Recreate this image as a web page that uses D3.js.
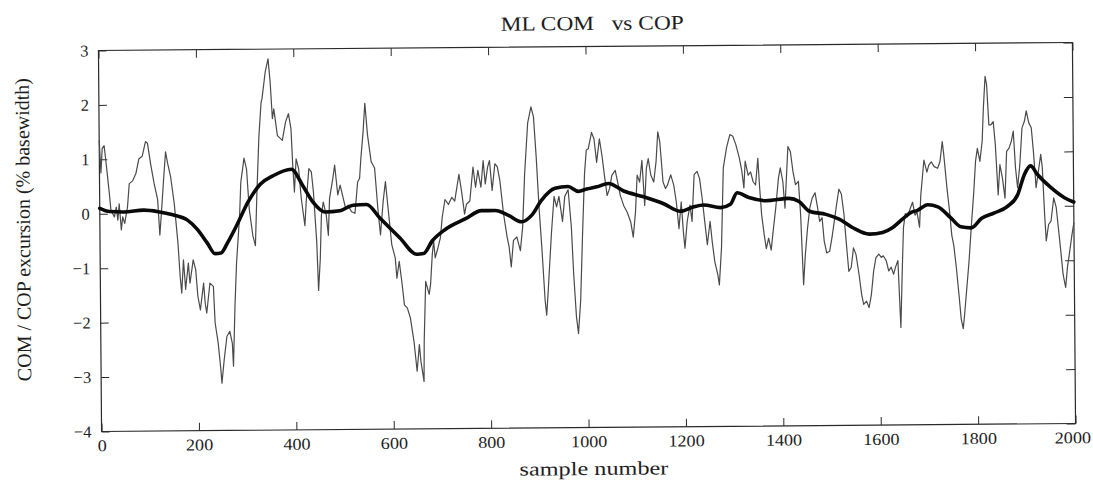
<!DOCTYPE html>
<html>
<head>
<meta charset="utf-8">
<script src="https://cdn.jsdelivr.net/npm/d3@7"></script>
<style>
  body { margin: 0; background: #fff; }
  svg text { font-family: "Liberation Serif", "Times New Roman", serif; fill: #1e1e1e; }
</style>
</head>
<body>
<svg id="chart" width="1093" height="481"></svg>
<script>
'use strict';

// axis ticks
var xTicks = [0, 200, 400, 600, 800, 1000, 1200, 1400, 1600, 1800, 2000];
var yTicks = [-4, -3, -2, -1, 0, 1, 2, 3];

// thin trace: COP [sample, % basewidth]
var copData = [
  [0,1.35],[3,0.75],[6,1.2],[10,1.25],[13,1.0],[20,0.37],[23,0.06],[30,-0.06],[34,0.12],[37,-0.12],
  [40,0.18],[44,-0.3],[47,-0.06],[51,-0.18],[57,0.12],[61,0.55],[68,0.6],[75,0.74],[81,1.0],[88,1.05],
  [95,1.32],[99,1.29],[105,0.92],[112,0.55],[119,0.25],[123,-0.4],[126,-0.06],[131,0.55],[136,1.13],[140,0.92],
  [146,0.67],[153,0.18],[160,-0.55],[164,-1.17],[167,-1.47],[171,-0.86],[175,-1.4],[181,-0.92],[184,-1.29],[191,-0.86],
  [196,-1.04],[200,-1.53],[205,-1.78],[212,-1.29],[215,-1.66],[218,-1.84],[225,-1.29],[232,-1.35],[235,-2.02],[241,-2.4],
  [246,-2.88],[248,-3.13],[253,-2.7],[259,-2.27],[265,-2.18],[270,-2.4],[272,-2.82],[276,-1.72],[280,-0.92],[287,-0.06],
  [290,0.55],[297,1.0],[302,0.8],[307,0.06],[314,-0.43],[319,-0.61],[323,0.37],[328,1.4],[333,2.02],[335,2.09],
  [342,2.58],[348,2.82],[352,2.39],[356,1.72],[359,1.9],[366,1.41],[376,1.32],[383,1.66],[389,1.81],[394,1.53],
  [397,0.86],[400,0.37],[404,0.98],[409,0.8],[414,0.25],[421,-0.25],[424,0.18],[430,0.8],[435,0.74],[439,0.37],
  [445,-0.55],[448,-1.44],[452,-0.86],[455,-0.06],[459,0.18],[465,-0.06],[469,-0.43],[472,0.25],[479,0.61],[483,0.86],
  [489,0.31],[494,0.49],[500,0.25],[505,0.06],[510,0.12],[517,0],[524,-0.03],[530,0.55],[534,0.61],[537,0.98],
  [542,1.47],[546,1.99],[551,1.41],[558,0.92],[565,0.8],[571,0.06],[576,-0.43],[582,0.18],[587,0.55],[592,0.06],
  [599,-0.61],[606,-0.86],[609,-1.23],[614,-0.92],[619,-1.29],[624,-1.72],[630,-1.78],[636,-1.96],[643,-2.39],[649,-2.94],
  [654,-2.45],[657,-2.76],[663,-3.13],[664,-2.39],[668,-1.29],[675,-1.53],[678,-1.35],[682,-0.8],[685,-0.55],[688,-0.86],
  [694,-0.67],[699,-0.49],[703,-0.12],[709,0.21],[716,0.12],[723,0.25],[729,0.18],[738,0.67],[743,0.37],[749,-0.06],
  [753,0.12],[760,0.18],[767,0.8],[772,0.43],[777,0.74],[783,0.43],[788,0.92],[792,0.49],[797,0.8],[801,0.92],
  [806,0.37],[812,0.86],[817,0.8],[822,0.55],[829,-0.06],[836,-0.49],[840,-0.67],[844,-1.04],[849,-0.55],[856,-0.49],
  [863,-0.74],[868,-0.31],[873,0.67],[880,1.6],[887,1.9],[892,1.72],[897,0.98],[902,0.06],[907,-0.67],[913,-1.66],
  [916,-1.93],[920,-1.41],[927,-0.43],[933,0.25],[938,0.06],[943,0.25],[950,-0.21],[955,0.25],[962,0.37],[968,-0.31],
  [972,-1.17],[977,-1.96],[981,-2.27],[986,-1.66],[991,-0.43],[996,0.67],[1000,1.1],[1004,1.12],[1011,1.42],[1016,1.3],
  [1021,0.87],[1027,1.3],[1032,1.0],[1036,0.69],[1042,0.26],[1047,0.38],[1052,0.63],[1059,0.72],[1064,0.5],[1069,0.26],
  [1076,0.07],[1083,-0.05],[1090,-0.23],[1095,-0.51],[1100,-0.05],[1104,0.63],[1109,0.5],[1114,0.9],[1119,0.07],[1123,0.75],
  [1127,0.93],[1132,0.63],[1138,0.5],[1143,0.87],[1147,1.42],[1151,1.24],[1157,0.5],[1162,0.38],[1166,0.44],[1173,0.63],
  [1179,0.44],[1184,0.13],[1189,-0.36],[1194,0.13],[1198,-0.42],[1201,-0.72],[1206,-0.23],[1212,0.07],[1216,-0.23],[1221,0.63],
  [1227,0.69],[1232,0.56],[1237,0.2],[1242,-0.23],[1247,-0.66],[1253,-0.23],[1257,-0.6],[1262,-0.97],[1268,-1.21],[1271,-1.4],
  [1276,-0.72],[1281,0.75],[1288,1.12],[1295,1.36],[1301,1.33],[1307,1.18],[1314,0.93],[1319,0.69],[1323,0.38],[1326,0.87],
  [1332,0.61],[1337,0.67],[1342,0.49],[1347,0.43],[1352,0.92],[1355,0.43],[1359,-0.12],[1364,-0.49],[1368,-0.74],[1373,-0.55],
  [1378,-0.77],[1383,-0.37],[1388,0],[1394,0.55],[1398,0.74],[1403,0.49],[1407,0],[1410,0.49],[1414,1.13],[1419,1.04],
  [1424,0.67],[1429,0.43],[1435,0.49],[1439,-0.12],[1444,-1.41],[1448,-0.86],[1453,-0.37],[1458,0],[1463,0.18],[1469,0.28],
  [1474,0],[1478,-0.25],[1483,-0.18],[1487,-0.61],[1492,-0.83],[1498,-0.8],[1503,-0.55],[1508,-0.25],[1513,0.06],[1518,0.34],
  [1523,0.25],[1528,-0.12],[1532,-0.61],[1537,-1.17],[1542,-1.1],[1547,-0.74],[1552,-0.86],[1558,-1.23],[1563,-1.6],[1567,-1.78],
  [1573,-1.72],[1578,-1.84],[1583,-1.6],[1588,-1.17],[1593,-0.92],[1599,-0.86],[1604,-0.92],[1608,-0.89],[1614,-0.98],[1619,-1.17],
  [1624,-1.1],[1629,-1.23],[1633,-1.1],[1638,-0.98],[1641,-1.72],[1643,-2.21],[1647,-1.1],[1650,-0.37],[1654,-0.12],[1658,-0.18],
  [1664,-0.03],[1669,0.09],[1674,-0.15],[1678,-0.09],[1683,-0.37],[1686,0.21],[1690,0.58],[1693,0.86],[1699,0.64],[1703,0.77],
  [1708,0.83],[1714,0.74],[1721,0.71],[1726,0.83],[1731,1.2],[1734,0.95],[1740,0.34],[1745,-0.09],[1749,-0.52],[1753,-0.71],
  [1758,-1.13],[1763,-1.63],[1767,-2.06],[1771,-2.24],[1774,-1.99],[1779,-1.5],[1784,-1.01],[1789,-0.4],[1795,0.28],[1799,0.83],
  [1803,1.07],[1808,0.83],[1813,1.2],[1816,1.81],[1820,2.39],[1823,2.24],[1827,1.5],[1831,1.5],[1836,1.56],[1840,1.13],
  [1845,0.21],[1849,0.77],[1854,0.52],[1859,0.15],[1863,1.01],[1868,1.07],[1873,1.2],[1877,1.38],[1881,0.71],[1885,0.34],
  [1890,0.77],[1895,1.44],[1900,1.56],[1904,1.75],[1909,1.53],[1914,1.44],[1918,1.01],[1923,0.34],[1927,0.58],[1933,0.95],
  [1936,0.71],[1940,-0.15],[1943,-0.64],[1948,-0.34],[1953,-0.28],[1959,0.15],[1964,-0.03],[1968,-0.4],[1972,-0.77],[1977,-1.26],
  [1982,-1.5],[1986,-1.13],[1991,-0.83],[1996,-0.52],[2000,-0.31]
];

// thick trace: COM [sample, % basewidth]
var comData = [
  [0,0.1],[20,0.04],[50,0.03],[90,0.06],[120,0.03],[150,-0.03],[180,-0.13],[200,-0.3],[220,-0.55],[236,-0.75],
  [248,-0.74],[262,-0.55],[280,-0.25],[305,0.2],[330,0.52],[356,0.67],[394,0.79],[417,0.49],[438,0.18],[462,0.0],
  [493,0.02],[520,0.12],[548,0.13],[575,-0.12],[616,-0.49],[650,-0.79],[664,-0.78],[682,-0.55],[709,-0.34],[750,-0.15],
  [784,0],[812,0.0],[839,-0.09],[866,-0.21],[887,-0.09],[907,0.18],[935,0.4],[962,0.43],[983,0.34],[1000,0.38],
  [1021,0.42],[1045,0.48],[1076,0.34],[1117,0.23],[1158,0.1],[1192,-0.04],[1220,0.04],[1240,0.07],[1275,0.02],[1295,0.08],
  [1309,0.29],[1333,0.2],[1368,0.14],[1415,0.18],[1436,0.12],[1457,-0.06],[1491,-0.12],[1518,-0.21],[1546,-0.37],[1580,-0.49],
  [1607,-0.46],[1628,-0.37],[1648,-0.22],[1665,-0.1],[1679,-0.06],[1700,0.04],[1721,0.0],[1748,-0.21],[1768,-0.37],[1789,-0.39],
  [1810,-0.22],[1837,-0.12],[1864,0.0],[1885,0.21],[1899,0.58],[1912,0.74],[1926,0.58],[1953,0.34],[1981,0.15],[2000,0.07]
];

var serifFont = '"Liberation Serif", "Times New Roman", serif';

function DrawComCopChart(vSelector)
{
	var svg = d3.select(vSelector);
	if (svg.empty() == true)
	{
		console.log('DrawComCopChart: no element for ' + vSelector);
		return;
	}

	var nLeft = 100, nRight = 1074, nTop = 46.5, nBottom = 427.5;
	var cx = (nLeft + nRight) / 2, cy = (nTop + nBottom) / 2;

	var x = d3.scaleLinear().domain([0, 2000]).range([nLeft, nRight]);
	var y = d3.scaleLinear().domain([-4, 3]).range([nBottom, nTop]);

	// the scanned page sits a little crooked
	var g = svg.append("g")
	    .attr("transform", `rotate(-0.47,${cx},${cy})`);

	var axisColor = "#2a2a2a";

	function StyleAxis(sel)
	{
		sel.attr("font-family", serifFont);
		sel.select(".domain").remove();
		sel.selectAll(".tick line").attr("stroke", axisColor).attr("stroke-width", 1);
		sel.selectAll(".tick text")
		    .style("font-family", serifFont)
		    .style("font-size", "16.5px")
		    .attr("fill", "#1e1e1e");
	}

	g.append("g")
	    .attr("transform", `translate(0,${nBottom})`)
	    .call(d3.axisBottom(x).tickValues(xTicks).tickSize(-8).tickPadding(8).tickFormat(d3.format("d")))
	    .call(StyleAxis)
	    .call(s => s.selectAll(".tick text")
	        .attr("transform", "scale(1.1,1)")
	        .attr("dx", d => d == 2000 ? -3 : 0));

	g.append("g")
	    .attr("transform", `translate(0,${nTop})`)
	    .call(d3.axisTop(x).tickValues(xTicks).tickSize(-8).tickFormat(""))
	    .call(StyleAxis);

	g.append("g")
	    .attr("transform", `translate(${nLeft},0)`)
	    .call(d3.axisLeft(y).tickValues(yTicks).tickSize(-8).tickPadding(10).tickFormat(d3.format("d")))
	    .call(StyleAxis);

	g.append("g")
	    .attr("transform", `translate(${nRight},0)`)
	    .call(d3.axisRight(y).tickValues(yTicks).tickSize(-9).tickFormat(""))
	    .call(StyleAxis);

	g.append("rect")
	    .attr("x", nLeft)
	    .attr("y", nTop)
	    .attr("width", nRight - nLeft)
	    .attr("height", nBottom - nTop)
	    .attr("fill", "none")
	    .attr("stroke", axisColor)
	    .attr("stroke-width", 1.2);

	var lineCop = d3.line()
	    .x(d => x(d[0]))
	    .y(d => y(d[1]));

	var lineCom = d3.line()
	    .curve(d3.curveMonotoneX)
	    .x(d => x(d[0]))
	    .y(d => y(d[1]));

	g.append("path")
	    .datum(copData)
	    .attr("fill", "none")
	    .attr("stroke", "#4a4a4a")
	    .attr("stroke-width", 1.2)
	    .attr("stroke-linejoin", "round")
	    .attr("d", lineCop);

	g.append("path")
	    .datum(comData)
	    .attr("fill", "none")
	    .attr("stroke", "#0a0a0a")
	    .attr("stroke-width", 3.6)
	    .attr("stroke-linejoin", "round")
	    .attr("stroke-linecap", "round")
	    .attr("d", lineCom);

	// titles
	g.append("text")
	    .attr("x", 594)
	    .attr("y", 30)
	    .attr("text-anchor", "middle")
	    .style("font-size", "20px")
	    .style("white-space", "pre")
	    .attr("textLength", 183)
	    .attr("lengthAdjust", "spacingAndGlyphs")
	    .text("ML COM   vs COP");

	g.append("text")
	    .attr("x", 592)
	    .attr("y", 475)
	    .attr("text-anchor", "middle")
	    .style("font-size", "19px")
	    .attr("textLength", 149)
	    .attr("lengthAdjust", "spacingAndGlyphs")
	    .text("sample number");

	g.append("text")
	    .attr("transform", "translate(30,225) rotate(-90)")
	    .attr("text-anchor", "middle")
	    .style("font-size", "20px")
	    .text("COM / COP excursion (% basewidth)");
}

DrawComCopChart('#chart');
</script>
</body>
</html>
